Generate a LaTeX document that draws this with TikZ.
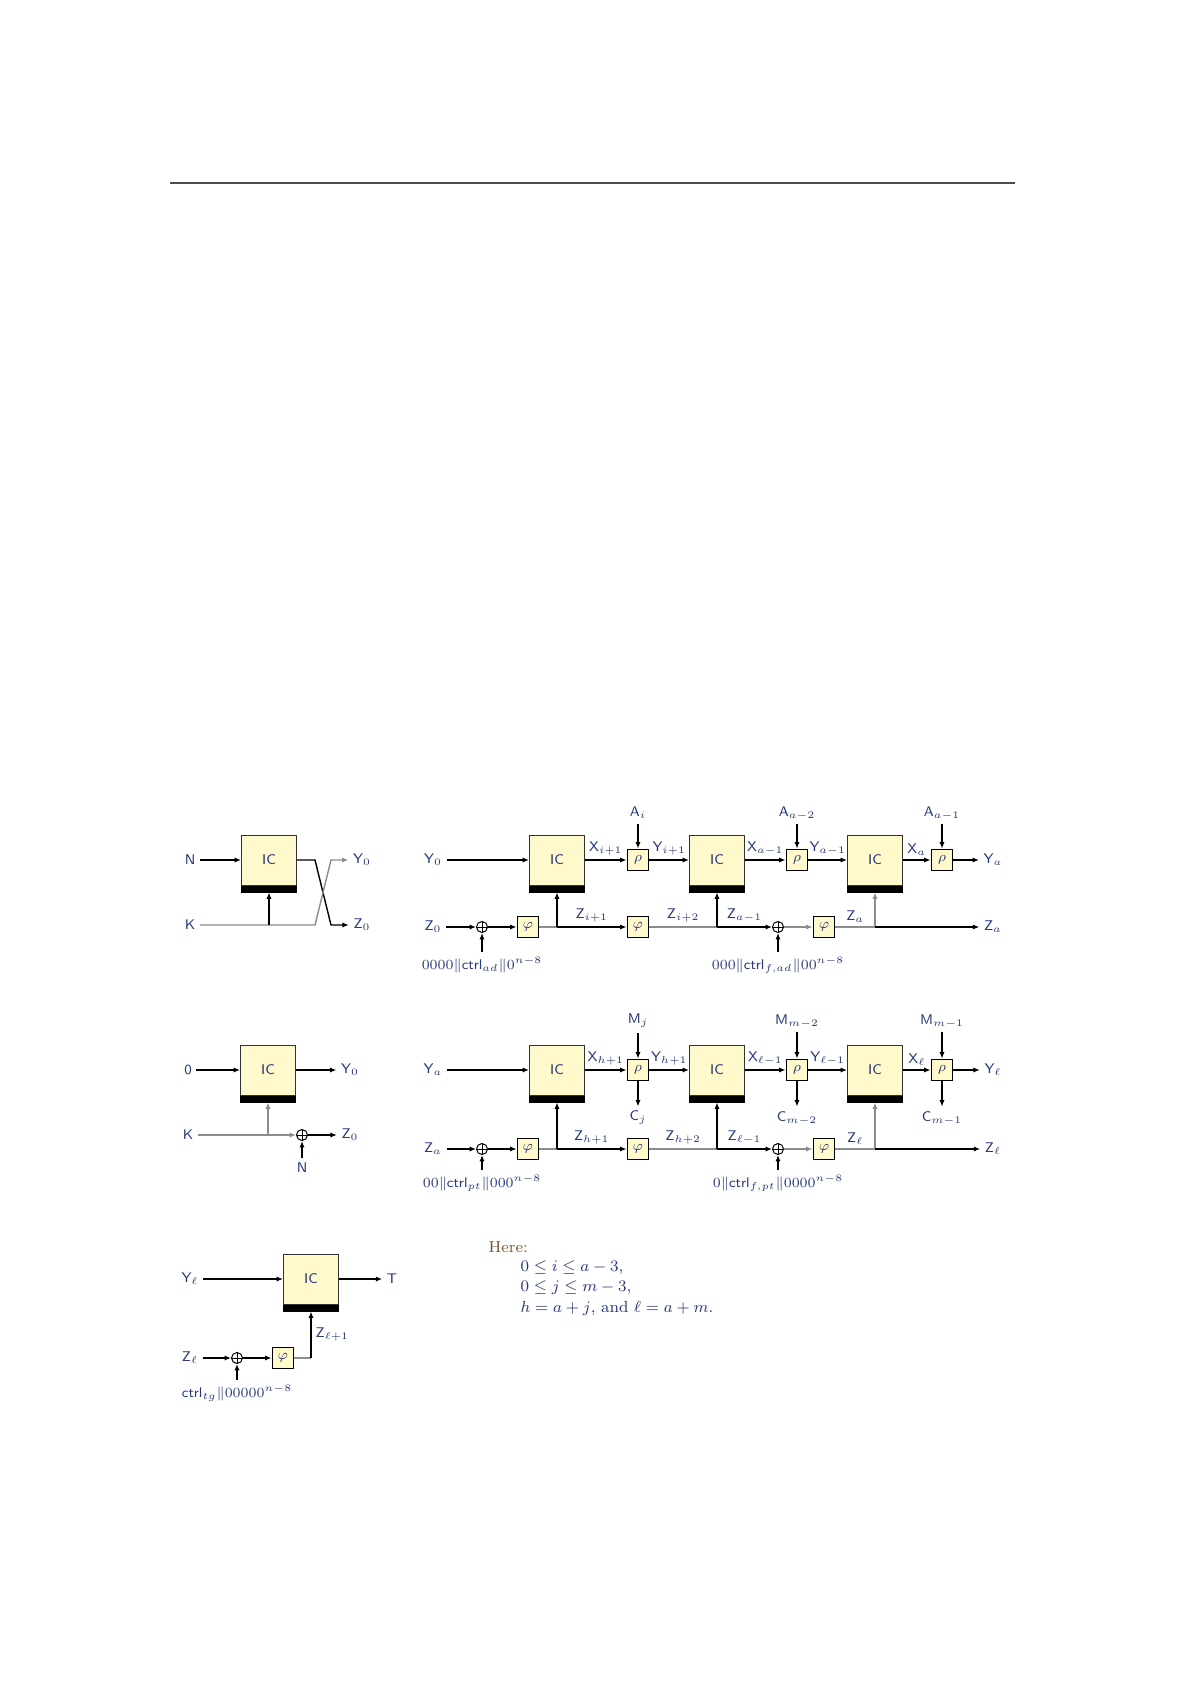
\documentclass[tikz,border=0pt]{standalone}
\usepackage{amsmath}
\usepackage{amssymb}
\usetikzlibrary{arrows.meta}

\definecolor{icyellow}{RGB}{255,249,204}
\definecolor{labblue}{RGB}{40,55,120}
\definecolor{herebrown}{RGB}{120,85,45}

% IC block with its key bar below
\newcommand{\icbox}[2]{%
  \node [ic] (#1) at (#2) {IC};
  \fill ([yshift=-3.5pt]#1.south west) rectangle (#1.south east);
  \coordinate (#1-key) at ([yshift=-3.5pt]#1.south);}

\begin{document}
\begin{tikzpicture}[x=0.5pt, y=-0.5pt, line width=0.7pt,
  >={Latex[length=3.2pt,width=2.6pt]},
  ic/.style={draw=black!80, line width=0.5pt, fill=icyellow, minimum width=27.5pt,
    minimum height=25pt, inner sep=0pt, font=\sffamily\scriptsize, text=labblue},
  small/.style={draw, line width=0.9pt, fill=icyellow, minimum size=10.5pt,
    inner sep=0pt, font=\scriptsize, text=labblue},
  xorop/.style={circle, draw, line width=0.5pt, minimum size=5.5pt, inner sep=0pt,
    path picture={\draw [line width=0.5pt]
      (path picture bounding box.north) -- (path picture bounding box.south)
      (path picture bounding box.west) -- (path picture bounding box.east);}},
  lab/.style={font=\sffamily\scriptsize, text=labblue, inner sep=2pt},
  here/.style={font=\footnotesize, text=labblue, inner sep=0pt, anchor=west},
  zline/.style={black!45}]

\useasboundingbox (0,0) rectangle (1192,1685);

% Draw the rule at the top
\draw [line width=1pt, black!70] (170,183) -- (1015,183);

% Initialization
\icbox{p1}{269,860}
\node [lab] (p1n) at (190,860) {$\mathsf{N}$};
\node [lab] (p1k) at (190,925) {$\mathsf{K}$};
\node [lab] (p1y) at (362,860) {$\mathsf{Y}_0$};
\node [lab] (p1z) at (362,925) {$\mathsf{Z}_0$};
\coordinate (p1a) at (315,860);
\coordinate (p1b) at (331,925);
\coordinate (p1c) at (315,925);
\coordinate (p1d) at (331,860);
\coordinate (p1j) at (p1-key |- p1k);
\draw [->] (p1n) -- (p1);
\draw [->] (p1) -- (p1a) -- (p1b) -- (p1z);
\draw [->,zline] (p1k) -- (p1c) -- (p1d) -- (p1y);
\draw [->] (p1j) -- (p1-key);

% Associated data
\node [lab] (ay0) at (433,860) {$\mathsf{Y}_0$};
\icbox{a1}{557,860}
\node [small] (ar1) at (638,860) {$\rho$};
\icbox{a2}{717,860}
\node [small] (ar2) at (797,860) {$\rho$};
\icbox{a3}{875,860}
\node [small] (ar3) at (942,860) {$\rho$};
\node [lab] (aya) at (993,860) {$\mathsf{Y}_a$};
\node [lab] (aa1) at (638,813) {$\mathsf{A}_i$};
\node [lab] (aa2) at (797,813) {$\mathsf{A}_{a-2}$};
\node [lab] (aa3) at (942,813) {$\mathsf{A}_{a-1}$};
\draw [->] (ay0) -- (a1);
\draw [->] (a1) -- node [lab,above] {$\mathsf{X}_{i+1}$} (ar1);
\draw [->] (ar1) -- node [lab,above] {$\mathsf{Y}_{i+1}$} (a2);
\draw [->] (a2) -- node [lab,above] {$\mathsf{X}_{a-1}$} (ar2);
\draw [->] (ar2) -- node [lab,above] {$\mathsf{Y}_{a-1}$} (a3);
\draw [->] (a3) -- node [lab,above] {$\mathsf{X}_a$} (ar3);
\draw [->] (ar3) -- (aya);
\draw [->] (aa1) -- (ar1);
\draw [->] (aa2) -- (ar2);
\draw [->] (aa3) -- (ar3);

\node [lab] (az0) at (433,927) {$\mathsf{Z}_0$};
\node [xorop] (ax1) at (482,927) {};
\node [lab] (ac1) at (482,965) {$0000\|\mathsf{ctrl}_{ad}\|0^{n-8}$};
\node [small] (ap1) at (528,927) {$\varphi$};
\coordinate (av1) at (a1-key |- ap1);
\node [small] (ap2) at (638,927) {$\varphi$};
\coordinate (av2) at (a2-key |- ap2);
\node [xorop] (ax2) at (778,927) {};
\node [lab] (ac2) at (778,965) {$000\|\mathsf{ctrl}_{f,ad}\|00^{n-8}$};
\node [small] (ap3) at (824,927) {$\varphi$};
\coordinate (av3) at (a3-key |- ap3);
\node [lab] (aza) at (993,927) {$\mathsf{Z}_a$};
\draw [->] (az0) -- (ax1);
\draw [->] (ac1) -- (ax1);
\draw [->] (ax1) -- (ap1);
\draw [zline] (ap1) -- (av1);
\draw [->] (av1) -- (a1-key);
\draw [->] (av1) -- node [lab,above] {$\mathsf{Z}_{i+1}$} (ap2);
\draw [zline] (ap2) -- node [lab,above] {$\mathsf{Z}_{i+2}$} (av2);
\draw [->] (av2) -- (a2-key);
\draw [->] (av2) -- node [lab,above] {$\mathsf{Z}_{a-1}$} (ax2);
\draw [->] (ac2) -- (ax2);
\draw [->,zline] (ax2) -- (ap3);
\draw [zline] (ap3) -- node [lab,above] {$\mathsf{Z}_a$} (av3);
\draw [->,zline] (av3) -- (a3-key);
\draw [->] (av3) -- (aza);

% Nonce and key
\icbox{q1}{268,1070}
\node [lab] (q0) at (188,1070) {$\mathsf{0}$};
\node [lab] (qy) at (350,1070) {$\mathsf{Y}_0$};
\node [lab] (qk) at (188,1135) {$\mathsf{K}$};
\node [xorop] (qx) at (302,1135) {};
\node [lab] (qn) at (302,1168) {$\mathsf{N}$};
\node [lab] (qz) at (350,1135) {$\mathsf{Z}_0$};
\coordinate (qj) at (q1-key |- qk);
\draw [->] (q0) -- (q1);
\draw [->] (q1) -- (qy);
\draw [->,zline] (qk) -- (qx);
\draw [->,zline] (qj) -- (q1-key);
\draw [->] (qn) -- (qx);
\draw [->] (qx) -- (qz);

% Message
\node [lab] (my0) at (433,1070) {$\mathsf{Y}_a$};
\icbox{m1}{557,1070}
\node [small] (mr1) at (638,1070) {$\rho$};
\icbox{m2}{717,1070}
\node [small] (mr2) at (797,1070) {$\rho$};
\icbox{m3}{875,1070}
\node [small] (mr3) at (942,1070) {$\rho$};
\node [lab] (myl) at (993,1070) {$\mathsf{Y}_\ell$};
\node [lab] (mm1) at (638,1021) {$\mathsf{M}_j$};
\node [lab] (mm2) at (797,1021) {$\mathsf{M}_{m-2}$};
\node [lab] (mm3) at (942,1021) {$\mathsf{M}_{m-1}$};
\node [lab] (mc1) at (638,1118) {$\mathsf{C}_j$};
\node [lab] (mc2) at (797,1118) {$\mathsf{C}_{m-2}$};
\node [lab] (mc3) at (942,1118) {$\mathsf{C}_{m-1}$};
\draw [->] (my0) -- (m1);
\draw [->] (m1) -- node [lab,above] {$\mathsf{X}_{h+1}$} (mr1);
\draw [->] (mr1) -- node [lab,above] {$\mathsf{Y}_{h+1}$} (m2);
\draw [->] (m2) -- node [lab,above] {$\mathsf{X}_{\ell-1}$} (mr2);
\draw [->] (mr2) -- node [lab,above] {$\mathsf{Y}_{\ell-1}$} (m3);
\draw [->] (m3) -- node [lab,above] {$\mathsf{X}_\ell$} (mr3);
\draw [->] (mr3) -- (myl);
\draw [->] (mm1) -- (mr1);
\draw [->] (mm2) -- (mr2);
\draw [->] (mm3) -- (mr3);
\draw [->] (mr1) -- (mc1);
\draw [->] (mr2) -- (mc2);
\draw [->] (mr3) -- (mc3);

\node [lab] (mz0) at (433,1149) {$\mathsf{Z}_a$};
\node [xorop] (mx1) at (482,1149) {};
\node [lab] (mk1) at (482,1183) {$00\|\mathsf{ctrl}_{pt}\|000^{n-8}$};
\node [small] (mp1) at (528,1149) {$\varphi$};
\coordinate (mv1) at (m1-key |- mp1);
\node [small] (mp2) at (638,1149) {$\varphi$};
\coordinate (mv2) at (m2-key |- mp2);
\node [xorop] (mx2) at (778,1149) {};
\node [lab] (mk2) at (778,1183) {$0\|\mathsf{ctrl}_{f,pt}\|0000^{n-8}$};
\node [small] (mp3) at (824,1149) {$\varphi$};
\coordinate (mv3) at (m3-key |- mp3);
\node [lab] (mzl) at (993,1149) {$\mathsf{Z}_\ell$};
\draw [->] (mz0) -- (mx1);
\draw [->] (mk1) -- (mx1);
\draw [->] (mx1) -- (mp1);
\draw [zline] (mp1) -- (mv1);
\draw [->] (mv1) -- (m1-key);
\draw [->] (mv1) -- node [lab,above] {$\mathsf{Z}_{h+1}$} (mp2);
\draw [zline] (mp2) -- node [lab,above] {$\mathsf{Z}_{h+2}$} (mv2);
\draw [->] (mv2) -- (m2-key);
\draw [->] (mv2) -- node [lab,above] {$\mathsf{Z}_{\ell-1}$} (mx2);
\draw [->] (mk2) -- (mx2);
\draw [->,zline] (mx2) -- (mp3);
\draw [zline] (mp3) -- node [lab,above] {$\mathsf{Z}_\ell$} (mv3);
\draw [->,zline] (mv3) -- (m3-key);
\draw [->] (mv3) -- (mzl);

% Tag
\icbox{t1}{311,1279}
\node [lab] (ty) at (190,1279) {$\mathsf{Y}_\ell$};
\node [lab] (tt) at (392,1279) {$\mathsf{T}$};
\node [lab] (tz) at (190,1358) {$\mathsf{Z}_\ell$};
\node [xorop] (tx) at (237,1358) {};
\node [lab] (tc) at (237,1393) {$\mathsf{ctrl}_{tg}\|00000^{n-8}$};
\node [small] (tp) at (283,1358) {$\varphi$};
\coordinate (tv) at (t1-key |- tp);
\draw [->] (ty) -- (t1);
\draw [->] (t1) -- (tt);
\draw [->] (tz) -- (tx);
\draw [->] (tc) -- (tx);
\draw [->] (tx) -- (tp);
\draw [zline] (tp) -- (tv);
\draw [->] (tv) -- node [lab,right] {$\mathsf{Z}_{\ell+1}$} (t1-key);

% Ranges of the indices
\node [here, text=herebrown] (here) at (488,1247) {Here:};
\node [here] (rng1) at (520,1268) {$0\le i\le a-3$,};
\node [here] (rng2) at (520,1288) {$0\le j\le m-3$,};
\node [here] (rng3) at (520,1308) {$h=a+j$, and $\ell=a+m$.};

\end{tikzpicture}
\end{document}
